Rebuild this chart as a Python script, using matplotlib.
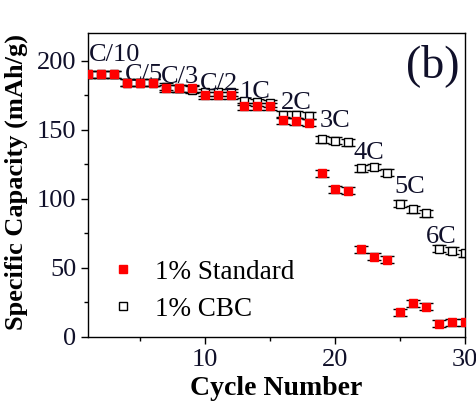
import matplotlib.pyplot as plt
from matplotlib.lines import Line2D
from matplotlib.ticker import MultipleLocator

plt.rcParams['font.family'] = ['Liberation Serif', 'DejaVu Serif']

cycles = list(range(1, 31))
standard = [190, 190, 190, 184, 184, 184, 180, 180, 180, 175, 175, 175,
            167, 167, 167, 157, 156, 155, 118.5, 107, 106, 63.5, 58, 56,
            18, 24.5, 22, 9.5, 10.5, 10.5]
cbc = [190, 190, 190, 184, 184, 184, 181, 180, 179, 177, 177, 177,
       170.5, 170, 169, 161, 161, 160, 143, 142, 141, 122, 123, 119,
       96.5, 92.5, 89.5, 64, 62.5, 60.5]
err = 2.5

rate_labels = ["C/10", "C/5", "C/3", "C/2", "1C", "2C", "3C", "4C", "5C", "6C"]
rate_x = [1.05, 3.8, 6.6, 9.6, 12.7, 15.8, 18.8, 21.4, 24.6, 27.0]
rate_y = [200, 185.5, 184, 179, 173, 165, 152, 129, 104, 68]

fig = plt.figure(figsize=(4.77, 4.05), dpi=100)
ax = fig.add_axes([0.1845, 0.168, 0.7905, 0.7505])

ax.errorbar(cycles, standard, yerr=err, fmt='s', ms=6, mfc='red', mec='red',
            ecolor='black', elinewidth=1, capsize=5, capthick=1, zorder=3)
ax.errorbar(cycles, cbc, yerr=err, fmt='s', ms=6, mfc='white', mec='black',
            mew=1, ecolor='black', elinewidth=1, capsize=5, capthick=1, zorder=2)

for lab, x, y in zip(rate_labels, rate_x, rate_y):
    ax.text(x, y, lab, fontsize=19, color='#10102a', ha='left', va='baseline')

ax.text(0.985, 0.965, "(b)", transform=ax.transAxes, fontsize=33,
        ha='right', va='top', color='#10102a')

handles = [Line2D([], [], ls='none', marker='s', ms=6, mfc='red', mec='red'),
           Line2D([], [], ls='none', marker='s', ms=6, mfc='white', mec='black')]
ax.legend(handles, ["1% Standard", "1% CBC"], loc='lower left',
          bbox_to_anchor=(-0.015, -0.03), frameon=False, fontsize=19.5,
          handlelength=1.2, handletextpad=0.6, labelspacing=0.45)

ax.set_xlim(1, 30)
ax.set_ylim(0, 220)
ax.xaxis.set_major_locator(MultipleLocator(10))
ax.xaxis.set_minor_locator(MultipleLocator(5))
ax.yaxis.set_major_locator(MultipleLocator(50))
ax.yaxis.set_minor_locator(MultipleLocator(25))
ax.tick_params(which='major', direction='out', length=5, width=1, labelsize=19,
               labelcolor='#10102a', top=False, right=False)
ax.tick_params(which='minor', direction='out', length=3, width=1, top=False, right=False)
for s in ax.spines.values():
    s.set_linewidth(1)

ax.set_xlabel("Cycle Number", fontsize=20, fontweight='bold', labelpad=4)
ax.set_ylabel("Specific Capacity (mAh/g)", fontsize=19, fontweight='bold')
ax.yaxis.set_label_coords(-0.16, 0.51)

fig.savefig("out.png", dpi=100)
